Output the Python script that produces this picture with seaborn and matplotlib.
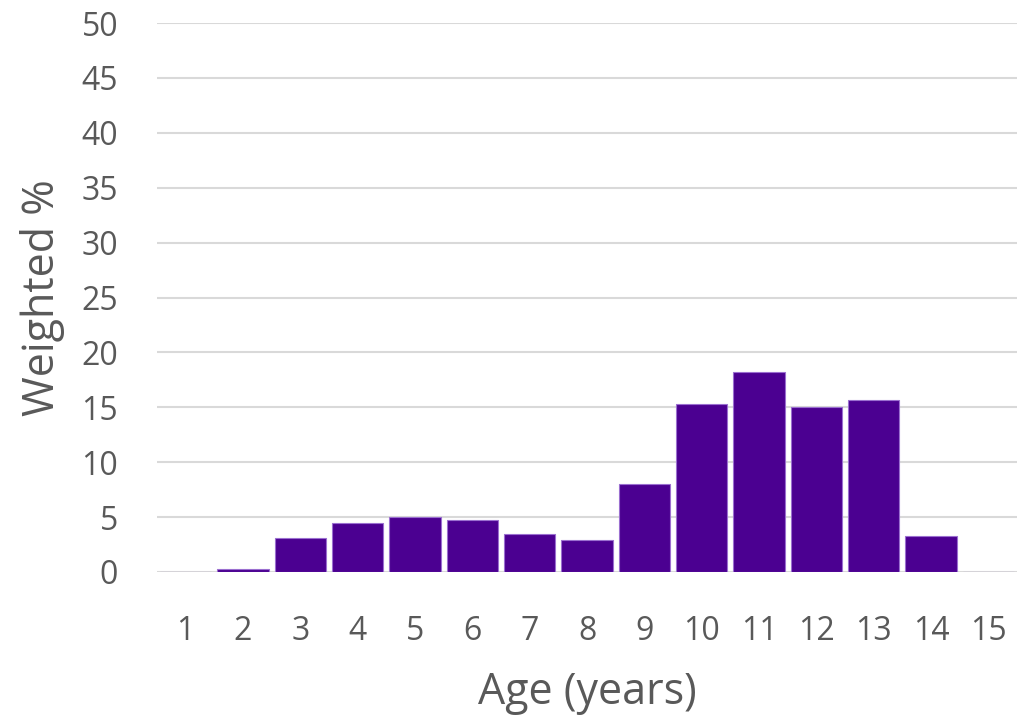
import matplotlib
matplotlib.use("Agg")
import matplotlib.pyplot as plt
import seaborn as sns
import pandas as pd

# Weighted % by age
ages = [str(a) for a in range(1, 16)]
weighted_pct = [0, 0.25, 3.07, 4.47, 5.05, 4.74, 3.46, 2.95, 8.0, 15.3, 18.25, 15.0, 15.65, 3.25, 0]

df = pd.DataFrame({"age": ages, "pct": weighted_pct})

sns.set_theme(style="white")
plt.rcParams["font.family"] = ["Open Sans", "DejaVu Sans"]

fig = plt.figure(figsize=(10.17, 7.21), dpi=100)
ax = fig.add_axes([0.1544, 0.2067, 0.8456, 0.7613])

sns.barplot(data=df, x="age", y="pct", color="#4B0091", saturation=1,
            width=0.9, edgecolor="#9B6FD0", linewidth=0.8, ax=ax, zorder=3)

ax.set_xlim(-0.5, 14.5)
ax.set_ylim(0, 50)
ax.set_yticks(range(0, 51, 5))
ax.grid(axis="y", color="#D9D9D9", linewidth=1.5, zorder=0)
ax.set_axisbelow(True)
sns.despine(ax=ax, left=True, bottom=True, top=True, right=True)

grey = "#595959"
ax.tick_params(axis="both", length=0, labelsize=23, labelcolor=grey)
ax.tick_params(axis="x", pad=31)
ax.tick_params(axis="y", pad=28)
ax.set_xlabel("Age (years)", fontsize=31, color=grey, labelpad=16)
ax.set_ylabel("Weighted %", fontsize=31, color=grey, labelpad=12)

fig.savefig("out.png", dpi=100)
